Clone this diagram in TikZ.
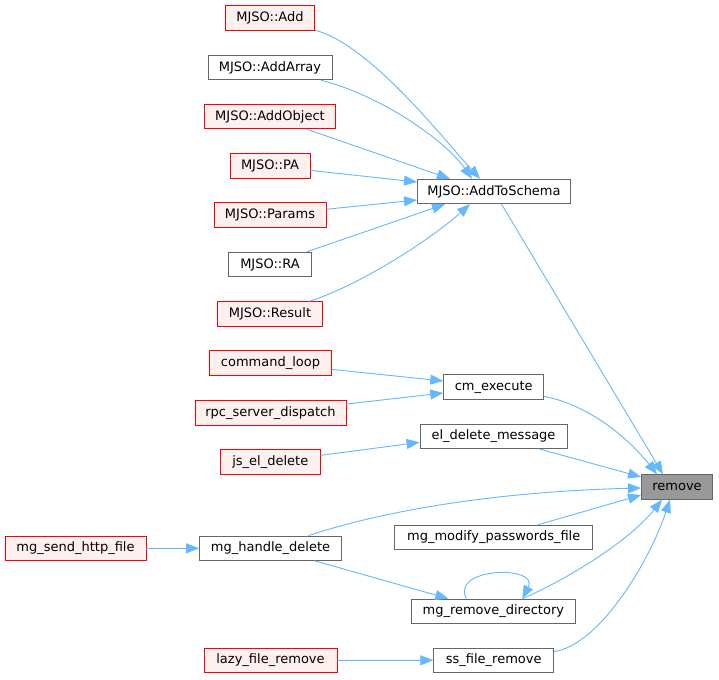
\documentclass[tikz,border=0pt]{standalone}
\usepackage{fontspec}
\setmainfont{DejaVu Sans}
\usepackage{xcolor}
\usetikzlibrary{arrows.meta}
\definecolor{edgeblue}{HTML}{63B8FF}
\definecolor{nodegray}{HTML}{666666}
\definecolor{rootfill}{HTML}{999999}
\definecolor{redline}{HTML}{FF0000}
\definecolor{redfill}{HTML}{FFF0F0}
\tikzset{
  fn/.style={draw=nodegray, fill=white, line width=0.9pt, minimum height=24.5pt, inner xsep=4pt, inner ysep=0pt, text=black, font=\fontsize{13}{15}\selectfont},
  fnred/.style={fn, draw=redline, fill=redfill},
  fnroot/.style={fn, fill=rootfill},
  call/.style={draw=edgeblue, line width=0.9pt, -{Triangle[length=13pt,width=10pt]}},
}
\begin{document}
\begin{tikzpicture}[x=1pt, y=-1pt]
  \fill[white] (0,0) rectangle (719,679);
  \useasboundingbox (0,0) rectangle (719,679);

  % callers of AddToSchema
  \node[fnred, minimum width=89pt]  (add)    at (270,18)    {MJSO::Add};
  \node[fn,    minimum width=124pt] (addarr) at (270,67.5)  {MJSO::AddArray};
  \node[fnred, minimum width=131pt] (addobj) at (270,116.5) {MJSO::AddObject};
  \node[fnred, minimum width=80pt]  (pa)     at (270,166)   {MJSO::PA};
  \node[fnred, minimum width=112pt] (params) at (270,215)   {MJSO::Params};
  \node[fn,    minimum width=83pt]  (ra)     at (270,264.5) {MJSO::RA};
  \node[fnred, minimum width=105pt] (result) at (270,314)   {MJSO::Result};
  \node[fn,    minimum width=153pt] (ats)    at (494,191.5) {MJSO::AddToSchema};

  % other callers
  \node[fnred, minimum width=122pt] (cmdloop) at (270.5,363)   {command\_loop};
  \node[fnred, minimum width=151pt] (rpcdisp) at (270.5,412.7) {rpc\_server\_dispatch};
  \node[fnred, minimum width=100pt] (jseldel) at (270.3,462)   {js\_el\_delete};
  \node[fnred, minimum width=141pt] (msend)   at (75.5,548.3)  {mg\_send\_http\_file};
  \node[fn,    minimum width=142pt] (mhdel)   at (270.5,548.3) {mg\_handle\_delete};
  \node[fnred, minimum width=133pt] (lazyrm)  at (270.5,660.5) {lazy\_file\_remove};

  \node[fn, minimum width=100pt] (cmexec)  at (493.7,387)   {cm\_execute};
  \node[fn, minimum width=147pt] (eldel)   at (493.5,436.3) {el\_delete\_message};
  \node[fn, minimum width=198pt] (mgmod)   at (493.7,537.5) {mg\_modify\_passwords\_file};
  \node[fn, minimum width=164pt] (mgrmdir) at (493.3,611.3) {mg\_remove\_directory};
  \node[fn, minimum width=120pt] (ssrm)    at (493.7,660.2) {ss\_file\_remove};

  \node[fnroot, minimum width=71pt] (rm) at (677,487) {remove};

  % edges into AddToSchema
  \draw[call] (add) .. controls (370,45) and (440,135) .. ([xshift=-14pt]ats.north);
  \draw[call] (addarr) .. controls (380,95) and (445,140) .. ([xshift=-22pt]ats.north);
  \draw[call] (addobj) -- ([xshift=-44pt]ats.north);
  \draw[call] (pa) -- ([yshift=9.5pt]ats.west);
  \draw[call] (params) -- ([yshift=-8.5pt]ats.west);
  \draw[call] (ra) -- ([xshift=-49pt]ats.south);
  \draw[call] (result) .. controls (360,285) and (430,240) .. ([xshift=-24pt]ats.south);

  % edges into the middle column
  \draw[call] (cmdloop) -- ([yshift=6pt]cmexec.west);
  \draw[call] (rpcdisp) -- ([yshift=-6pt]cmexec.west);
  \draw[call] (jseldel) -- ([yshift=-6pt]eldel.west);
  \draw[call] (msend) -- (mhdel);
  \draw[call] (mhdel) -- ([xshift=-45pt]mgrmdir.north);
  \draw[call] ([xshift=-27pt]mgrmdir.north) .. controls (450,567) and (540,565) .. ([xshift=29pt]mgrmdir.north);
  \draw[call] (lazyrm) -- (ssrm);

  % edges into remove
  \draw[call] (ats) -- ([xshift=-14pt]rm.north);
  \draw[call] (cmexec) .. controls (590,405) and (630,440) .. ([xshift=-20pt]rm.north);
  \draw[call] (eldel) -- ([yshift=10pt]rm.west);
  \draw[call] (mhdel) .. controls (370,515) and (480,492) .. ([yshift=-1pt]rm.west);
  \draw[call] (mgmod) -- ([yshift=-8pt]rm.west);
  \draw[call] (mgrmdir) .. controls (570,578) and (630,540) .. ([xshift=-15pt]rm.south);
  \draw[call] (ssrm) .. controls (600,645) and (650,560) .. ([xshift=-7pt]rm.south);
\end{tikzpicture}
\end{document}
